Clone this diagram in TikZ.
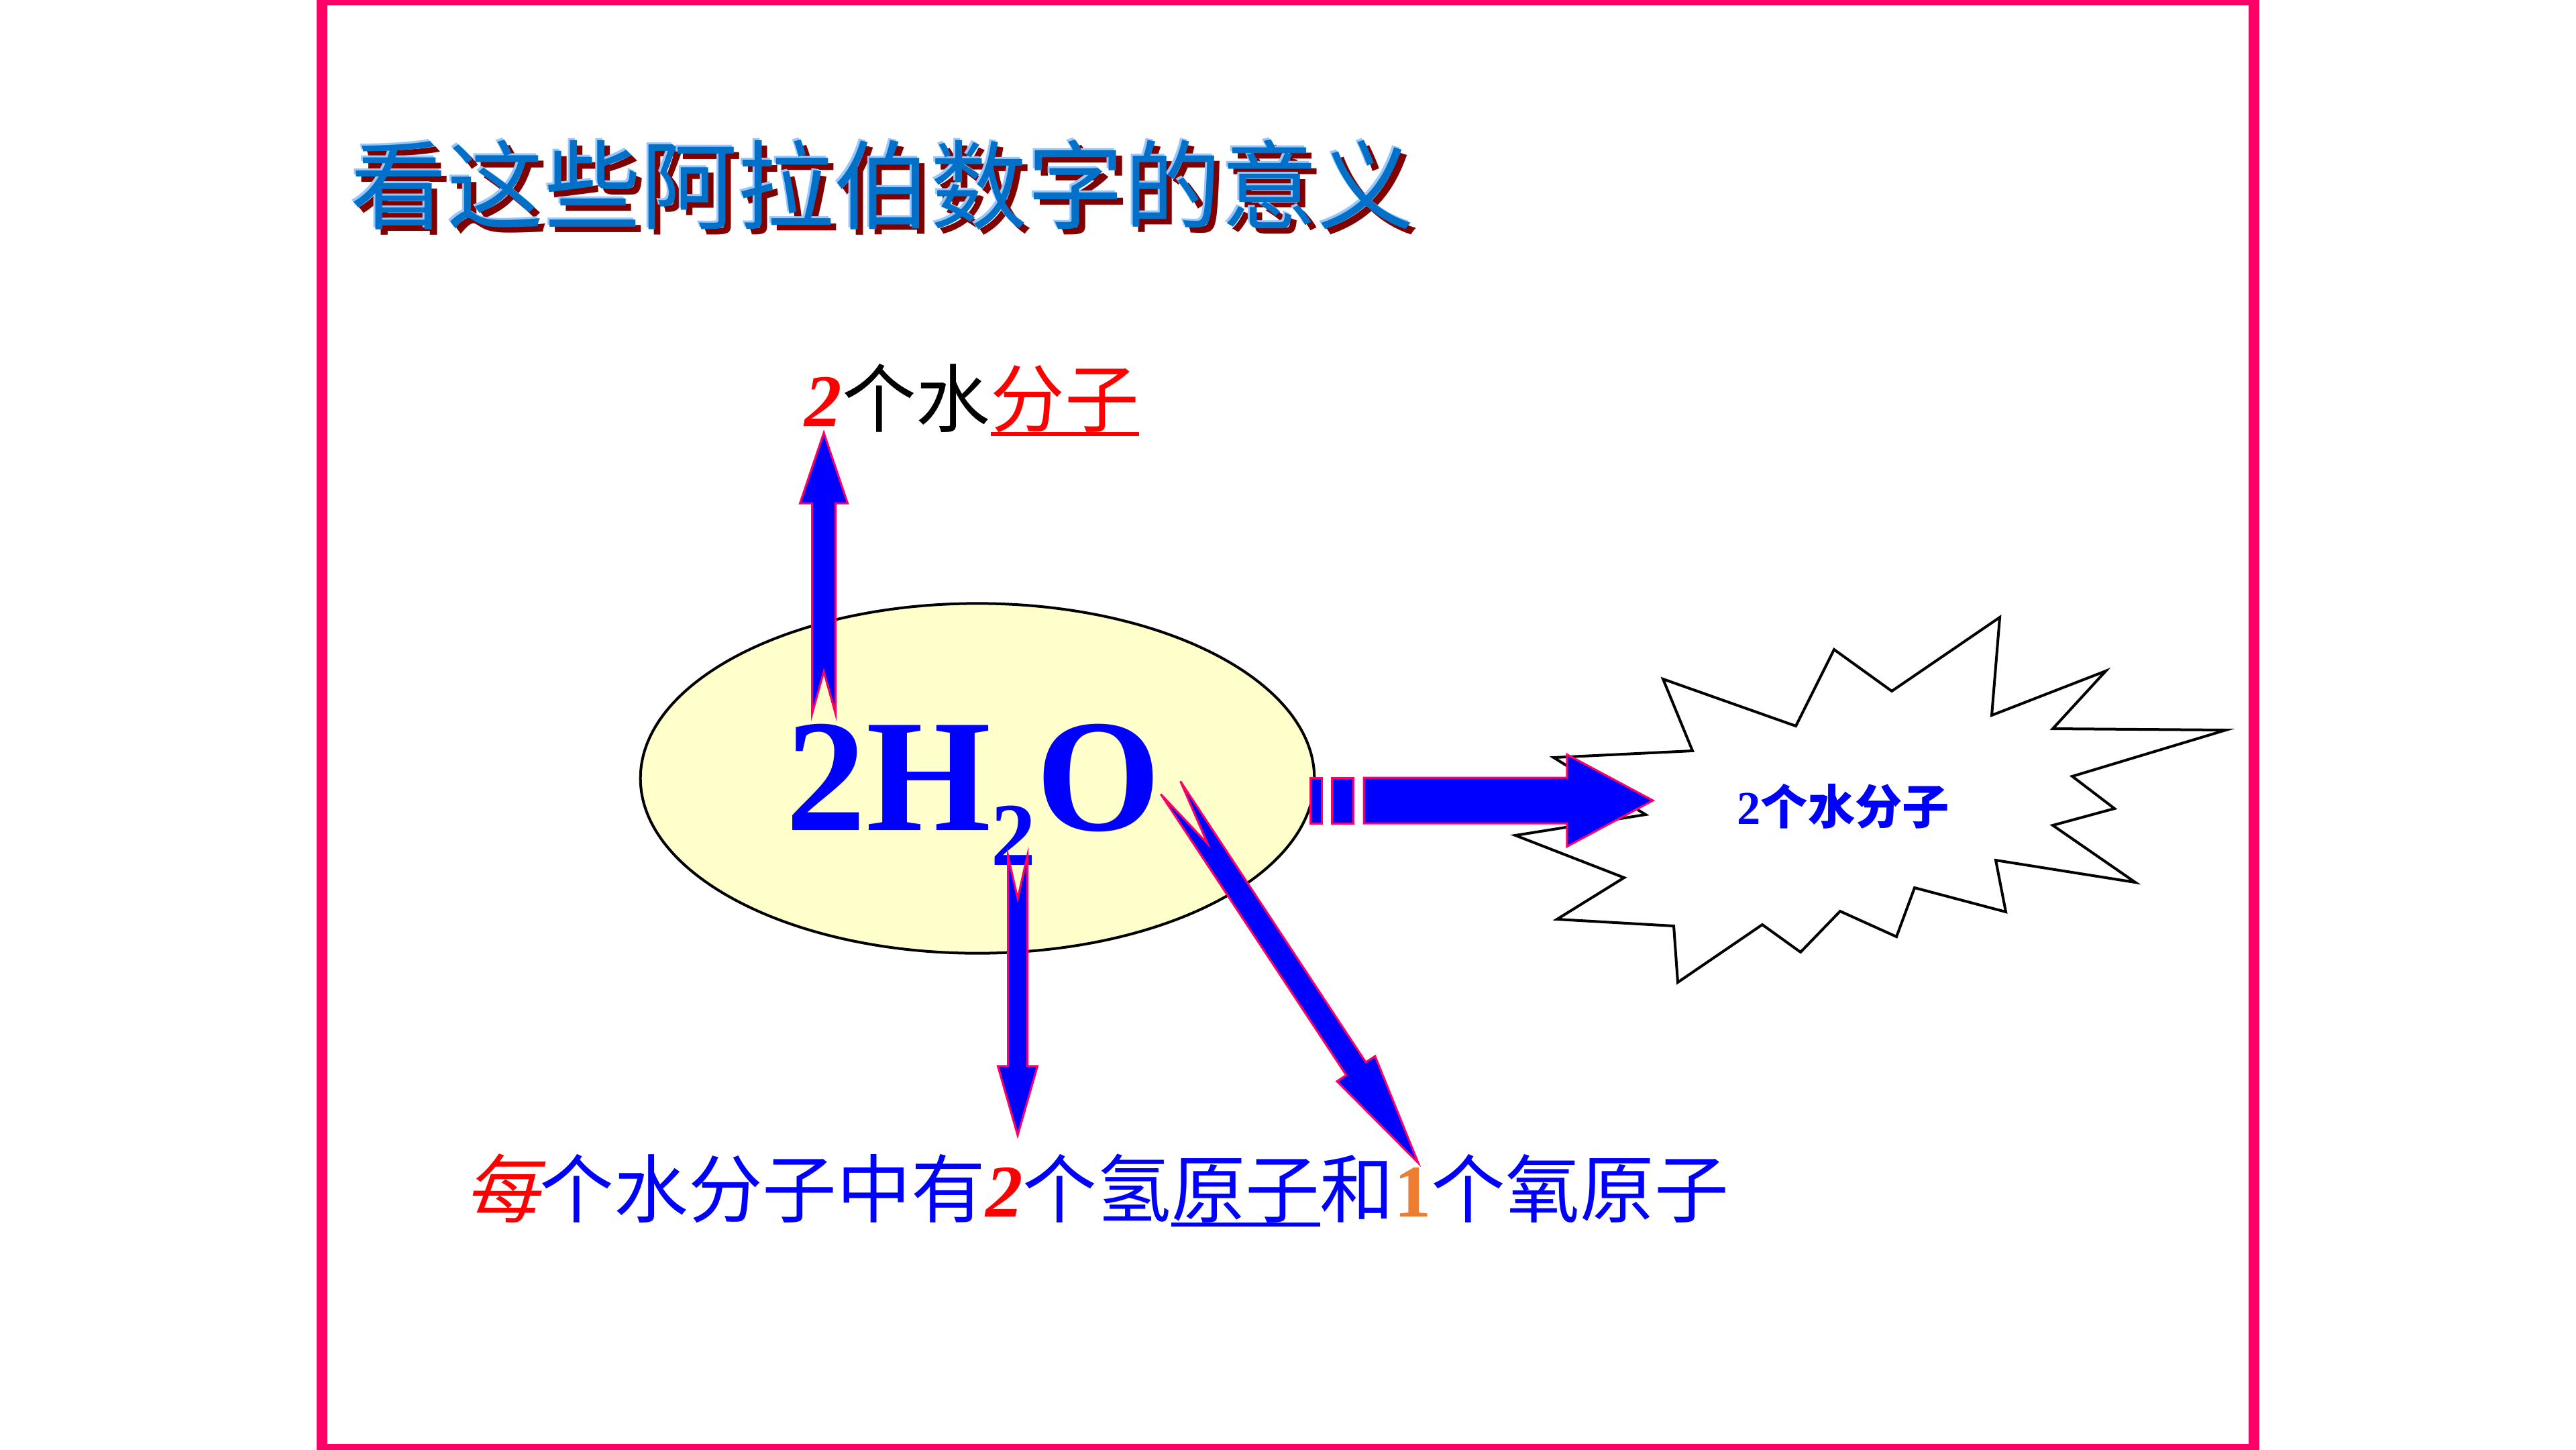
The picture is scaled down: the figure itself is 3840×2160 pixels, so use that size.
\documentclass[tikz,border=0pt]{standalone}
\usepackage{fontspec}
\setmainfont{Liberation Serif}
\newfontfamily\cjk{Noto Sans CJK SC}
\newfontfamily\cjkit[FakeSlant=0.22]{Noto Sans CJK SC}
\usetikzlibrary{shapes.geometric,calc}
\definecolor{framepink}{RGB}{255,0,102}
\definecolor{ellfill}{RGB}{255,255,204}
\definecolor{titleblue}{RGB}{0,112,200}
\definecolor{titlelight}{RGB}{150,200,255}
\definecolor{titleshadow}{RGB}{128,0,0}
\definecolor{onecol}{RGB}{237,125,49}
\definecolor{pureblue}{RGB}{0,0,255}
\definecolor{purered}{RGB}{255,0,0}
\newcommand\myul[1]{\setbox0=\hbox{#1}\rlap{\rule[-4.3pt]{\wd0}{1.7pt}}\box0}
\newcommand\titlestr{看这些阿拉伯数字的意义}
\newcommand\notcharrow[7]{%
  \coordinate (#1-b) at ($(#3)!#6!(#2)$);
  \path[blockarrow] ($(#2)!#7!(#3)$)
    -- ($(#2)!#4!90:(#3)$)
    -- ($(#1-b)!#4!90:(#3)$)
    -- ($(#1-b)!#5!90:(#3)$)
    -- (#3)
    -- ($(#1-b)!#5!-90:(#3)$)
    -- ($(#1-b)!#4!-90:(#3)$)
    -- ($(#2)!#4!-90:(#3)$)
    -- cycle;}
\tikzset{
  titletext/.style={anchor=west, inner sep=0pt, font=\cjk\fontsize{41}{48}\selectfont},
  blockarrow/.style={fill=pureblue, draw=framepink, line width=0.03cm, line join=miter},
  labeltext/.style={anchor=base west, inner sep=0pt, font=\fontsize{31.5}{38}\selectfont}
}
\begin{document}
\begin{tikzpicture}[x=0.01cm, y=-0.01cm]
\useasboundingbox (0,0) rectangle (3840,2160);
% frame
\draw[framepink, line width=0.16cm] (480,0) rectangle (3360,2160);
% title with shadow and highlight (one text)
\node[titletext] (title) at (522,278) {%
  \rlap{\hspace{2.3pt}\raisebox{-2.3pt}{\textcolor{titleshadow}{\titlestr}}}%
  \rlap{\hspace{-0.85pt}\raisebox{0.85pt}{\textcolor{titlelight}{\titlestr}}}%
  \textcolor{titleblue}{\titlestr}};
% starburst
\draw[line width=0.04cm, fill=white] (2981,920) -- (2969,1066) -- (3139,1000) -- (3060,1086)
  -- (3318,1088) -- (3089,1157) -- (3152,1205) -- (3060,1230) -- (3183,1315)
  -- (2975,1282) -- (2990,1359) -- (2854,1323) -- (2827,1396) -- (2743,1358)
  -- (2684,1419) -- (2627,1378) -- (2501,1464) -- (2495,1380) -- (2321,1370)
  -- (2421,1308) -- (2259,1245) -- (2453,1214) -- (2316,1129) -- (2523,1119)
  -- (2479,1012) -- (2677,1082) -- (2734,968) -- (2820,1030) -- cycle;
\node[text=pureblue, font=\bfseries\fontsize{20}{24}\selectfont, inner sep=0pt] (burst) at (2748,1202) {2{\cjk 个水分子}};
% ellipse with formula
\node[ellipse, draw=black, line width=0.04cm, fill=ellfill, minimum width=10.04cm, minimum height=5.21cm, inner sep=0pt] (mol) at (1457,1160) {};
\node[anchor=base west, inner sep=0pt, text=pureblue, font=\bfseries\fontsize{68}{80}\selectfont] (formula) at (1171,1237) {2H\raisebox{-15pt}{\fontsize{38}{40}\selectfont 2}O};
% labels
\node[labeltext] (toplbl) at (1199,635) {\textcolor{purered}{\bfseries\itshape 2}{\cjk 个水}\textcolor{purered}{\myul{\cjk 分子}}};
\node[labeltext, text=pureblue] (botlbl) at (693,1813) {\cjk\textcolor{purered}{\cjkit 每}个水分子中有\textcolor{purered}{\rmfamily\bfseries\itshape 2}个氢\myul{原子}和\textcolor{onecol}{\rmfamily\bfseries 1}个氧原子};
% arrow end points
\coordinate (upTail) at (1228,1064);
\coordinate (upTip) at (1228,645);
\coordinate (dnTail) at (1517,1275);
\coordinate (dnTip) at (1517,1692);
\coordinate (dgTail) at (1745,1174);
\coordinate (dgTip) at (2114,1733);
\coordinate (rtTail) at (2033,1193);
\coordinate (rtTip) at (2464,1193);
% block arrows
\notcharrow{up}{upTail}{upTip}{0.175cm}{0.355cm}{1.05cm}{0.63cm}
\notcharrow{dn}{dnTail}{dnTip}{0.145cm}{0.295cm}{1.03cm}{0.64cm}
\notcharrow{dg}{dgTail}{dgTip}{0.175cm}{0.34cm}{1.68cm}{1.0cm}
\notcharrow{rt}{rtTail}{rtTip}{0.34cm}{0.685cm}{1.28cm}{0pt}
\path[blockarrow] (1953,1159) rectangle (1970,1227);
\path[blockarrow] (1985,1159) rectangle (2017,1227);
\end{tikzpicture}
\end{document}
